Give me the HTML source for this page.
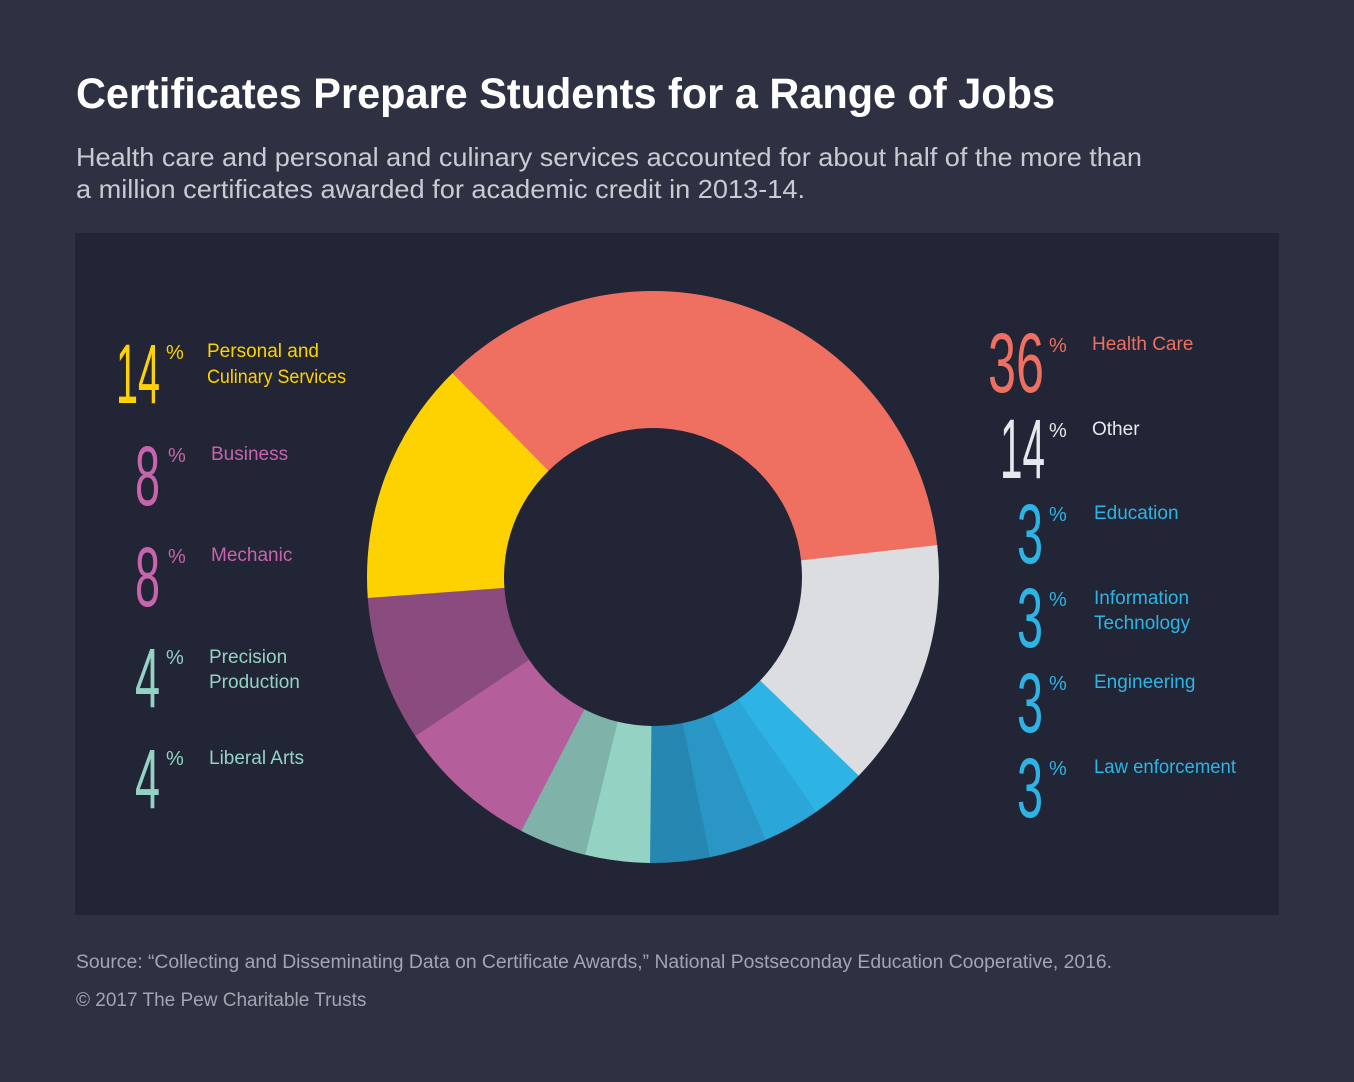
<!DOCTYPE html>
<html><head><meta charset="utf-8"><style>
html,body{margin:0;padding:0;background:#2e3142;}
svg{display:block}
</style></head><body>
<svg id="s" width="1354" height="1082" viewBox="0 0 1354 1082" xmlns="http://www.w3.org/2000/svg" font-family="Liberation Sans, sans-serif">
<rect width="1354" height="1082" fill="#2e3142"/>
<text x="76" y="108" font-size="43" font-weight="bold" fill="#ffffff" textLength="979" lengthAdjust="spacingAndGlyphs">Certificates Prepare Students for a Range of Jobs</text>
<text x="76" y="166" font-size="26" fill="#c9cbd2" textLength="1066" lengthAdjust="spacingAndGlyphs">Health care and personal and culinary services accounted for about half of the more than</text>
<text x="76" y="198" font-size="26" fill="#c9cbd2" textLength="729" lengthAdjust="spacingAndGlyphs">a million certificates awarded for academic credit in 2013-14.</text>
<rect x="75" y="233" width="1204" height="682" fill="#222536"/>
<g id="donut"></g>
<g font-size="84" font-family="Liberation Sans, sans-serif">
<text x="116" y="403" fill="#fed200" textLength="44" lengthAdjust="spacingAndGlyphs">14</text>
<text x="135" y="505" fill="#c864ad" textLength="25" lengthAdjust="spacingAndGlyphs">8</text>
<text x="135" y="606" fill="#c864ad" textLength="25" lengthAdjust="spacingAndGlyphs">8</text>
<text x="135" y="707" fill="#94d3c4" textLength="25" lengthAdjust="spacingAndGlyphs">4</text>
<text x="135" y="808" fill="#94d3c4" textLength="25" lengthAdjust="spacingAndGlyphs">4</text>
<text x="988" y="392" fill="#ef6f61" textLength="56" lengthAdjust="spacingAndGlyphs">36</text>
<text x="1000" y="478" fill="#e8e9ec" textLength="45" lengthAdjust="spacingAndGlyphs">14</text>
<text x="1017" y="563" fill="#2eb4e4" textLength="26" lengthAdjust="spacingAndGlyphs">3</text>
<text x="1017" y="647" fill="#2eb4e4" textLength="26" lengthAdjust="spacingAndGlyphs">3</text>
<text x="1017" y="732" fill="#2eb4e4" textLength="26" lengthAdjust="spacingAndGlyphs">3</text>
<text x="1017" y="817" fill="#2eb4e4" textLength="26" lengthAdjust="spacingAndGlyphs">3</text>
</g>
<g font-size="20">
<text x="166" y="359" fill="#fed200">%</text>
<text x="168" y="462" fill="#c864ad">%</text>
<text x="168" y="563" fill="#c864ad">%</text>
<text x="166" y="664" fill="#94d3c4">%</text>
<text x="166" y="765" fill="#94d3c4">%</text>
<text x="1049" y="352" fill="#ef6f61">%</text>
<text x="1049" y="437" fill="#e8e9ec">%</text>
<text x="1049" y="521" fill="#2eb4e4">%</text>
<text x="1049" y="606" fill="#2eb4e4">%</text>
<text x="1049" y="690" fill="#2eb4e4">%</text>
<text x="1049" y="775" fill="#2eb4e4">%</text>
</g>
<g font-size="19">
<text x="207" y="357" fill="#fed200">Personal and</text>
<text x="207" y="383" fill="#fed200" textLength="139" lengthAdjust="spacingAndGlyphs">Culinary Services</text>
<text x="211" y="460" fill="#c864ad">Business</text>
<text x="211" y="561" fill="#c864ad">Mechanic</text>
<text x="209" y="663" fill="#94d3c4">Precision</text>
<text x="209" y="688" fill="#94d3c4">Production</text>
<text x="209" y="764" fill="#94d3c4">Liberal Arts</text>
<text x="1092" y="350" fill="#ef6f61">Health Care</text>
<text x="1092" y="435" fill="#e8e9ec">Other</text>
<text x="1094" y="519" fill="#2eb4e4">Education</text>
<text x="1094" y="604" fill="#2eb4e4">Information</text>
<text x="1094" y="629" fill="#2eb4e4">Technology</text>
<text x="1094" y="688" fill="#2eb4e4">Engineering</text>
<text x="1094" y="773" fill="#2eb4e4" textLength="142" lengthAdjust="spacingAndGlyphs">Law enforcement</text>
</g>
<text x="76" y="968" font-size="19" fill="#a3a6b0" textLength="1036" lengthAdjust="spacingAndGlyphs">Source: “Collecting and Disseminating Data on Certificate Awards,” National Postseconday Education Cooperative, 2016.</text>
<text x="76" y="1006" font-size="19" fill="#a3a6b0">© 2017 The Pew Charitable Trusts</text>
</svg>
<script>
(function(){
var cx=653,cy=577,R=286,r=149;
var segs=[[-44.7,83.6,"#ef6f61"],[83.6,134,"#dcdde0"],[134,145.2,"#2eb4e4"],[145.2,156.8,"#2aa6d8"],[156.8,168.5,"#2996c6"],[168.5,180.6,"#2787b3"],[180.6,193.7,"#94d3c4"],[193.7,207.4,"#7fb3a9"],[207.4,236.2,"#b45e9c"],[236.2,265.8,"#8a4c7e"],[265.8,315.3,"#fed200"]];
function p(a,rr){var t=a*Math.PI/180;return [(cx+rr*Math.sin(t)).toFixed(2),(cy-rr*Math.cos(t)).toFixed(2)];}
var g=document.getElementById("donut"),h="";
segs.forEach(function(s){var a=s[0],b=s[1]+0.15,l=(b-a)>180?1:0;
var o1=p(a,R),o2=p(b,R),i2=p(b,r),i1=p(a,r);
h+='<path fill="'+s[2]+'" d="M'+o1+' A'+R+' '+R+' 0 '+l+' 1 '+o2+' L'+i2+' A'+r+' '+r+' 0 '+l+' 0 '+i1+' Z"/>';});
g.innerHTML=h;
})();
</script>
</body></html>
